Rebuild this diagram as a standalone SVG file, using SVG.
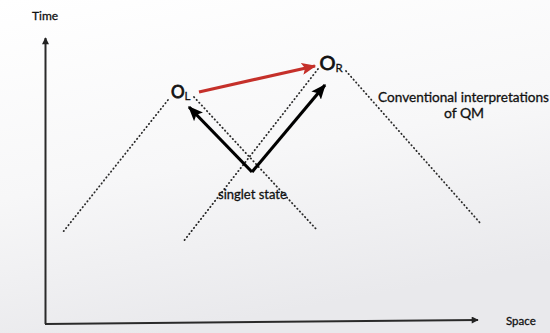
<svg xmlns="http://www.w3.org/2000/svg" width="550" height="333" viewBox="0 0 550 333">
  <defs>
    <linearGradient id="bg" x1="0" y1="0" x2="0.3" y2="1">
      <stop offset="0" stop-color="#ffffff"/>
      <stop offset="0.55" stop-color="#f7f7f8"/>
      <stop offset="1" stop-color="#e9e9ec"/>
    </linearGradient>
    <marker id="axisHead" viewBox="0 0 10 10" refX="9" refY="5" markerWidth="8" markerHeight="7" markerUnits="userSpaceOnUse" orient="auto">
      <path d="M0,0 L10,5 L0,10 Z" fill="#222"/>
    </marker>
    <marker id="blackHead" viewBox="0 0 12 10" refX="11" refY="5" markerWidth="15" markerHeight="13" markerUnits="userSpaceOnUse" orient="auto">
      <path d="M0,0 L12,5 L0,10 L2.5,5 Z" fill="#000"/>
    </marker>
    <marker id="redHead" viewBox="0 0 12 10" refX="11" refY="5" markerWidth="15" markerHeight="12" markerUnits="userSpaceOnUse" orient="auto">
      <path d="M0,0 L12,5 L0,10 L2.5,5 Z" fill="#c5302a"/>
    </marker>
  </defs>
  <style>
    .lbl { font-family: Lato, "Liberation Sans", sans-serif; fill: #111; stroke: #111; stroke-width: 0.3; }
    .obs { stroke-width: 0.8; }
    .axis { stroke: #2a2a2a; stroke-width: 2; fill: none; }
    .cone { stroke: #2a2a2a; stroke-width: 1.8; stroke-dasharray: 0.4 3.4; stroke-linecap: round; fill: none; }
    .move { stroke: #000; stroke-width: 3.2; fill: none; }
    .signal { stroke: #c5302a; stroke-width: 3.2; fill: none; }
  </style>

  <rect x="0" y="0" width="550" height="333" fill="url(#bg)"/>

  <!-- axes -->
  <g id="axes">
    <line class="axis" x1="45.5" y1="324" x2="45.5" y2="38" marker-end="url(#axisHead)"/>
    <line class="axis" x1="45" y1="324" x2="478" y2="320" marker-end="url(#axisHead)"/>
    <text class="lbl" x="32" y="20" font-size="12">Time</text>
    <text class="lbl" x="506" y="325" font-size="11.5">Space</text>
  </g>

  <!-- light cones and trajectories -->
  <g id="connectors">
    <line class="cone" x1="168" y1="100" x2="63" y2="232"/>
    <line class="cone" x1="194" y1="97" x2="317" y2="230"/>
    <line class="cone" x1="318" y1="69" x2="183" y2="242"/>
    <line class="cone" x1="346" y1="71" x2="481" y2="224"/>
    <polyline class="move" points="252,172 189,107" marker-end="url(#blackHead)"/>
    <polyline class="move" points="252,172 325,85" marker-end="url(#blackHead)"/>
    <line class="signal" x1="199" y1="92" x2="315" y2="66" marker-end="url(#redHead)"/>
  </g>

  <g id="observer-left">
    <text class="lbl obs" x="171" y="98" font-size="17">O<tspan font-size="11.5" dy="2" class="lbl">L</tspan></text>
  </g>

  <g id="observer-right">
    <text class="lbl obs" x="319.5" y="70" font-size="20">O<tspan font-size="11.5" dy="2" class="lbl">R</tspan></text>
  </g>

  <g id="source">
    <text class="lbl" x="218" y="199" font-size="13">singlet state</text>
  </g>

  <g id="caption">
    <text class="lbl" x="549" y="102" font-size="13.6" text-anchor="end">Conventional interpretations</text>
    <text class="lbl" x="464" y="118" font-size="14" text-anchor="middle">of QM</text>
  </g>
</svg>
